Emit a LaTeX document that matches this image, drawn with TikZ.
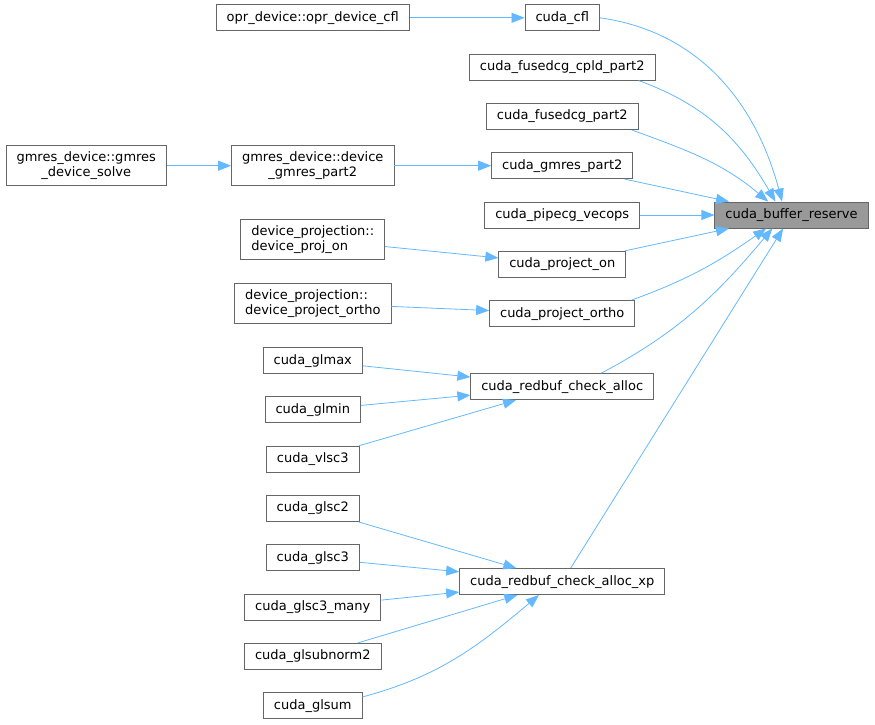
\documentclass[tikz,border=0pt]{standalone}
\usepackage{fontspec}
\setmainfont{DejaVu Sans}
\usetikzlibrary{arrows.meta, positioning}

\definecolor{edgeblue}{HTML}{63B8FF}
\definecolor{boxgray}{HTML}{666666}
\definecolor{rootgray}{HTML}{999999}

\tikzset{
    fn/.style={rectangle, draw=boxgray, line width=0.9pt, fill=white,
        minimum height=26pt, inner xsep=10.5pt, inner ysep=2pt,
        font=\fontsize{13}{15}\selectfont},
    fn root/.style={fn, fill=rootgray},
    fn two/.style={fn, align=center, minimum height=40pt},
    fn left/.style={fn, align=left, minimum height=40pt},
    call/.style={color=edgeblue, line width=0.8pt,
        -{Triangle[length=13pt, width=10pt]}},
}

\begin{document}
\begin{tikzpicture}[x=1pt, y=1pt, node distance=49.3pt and 249.5pt, on grid]
        \useasboundingbox (0,0) rectangle (875,-724);

        % Draw the functions
        \node[fn root]                     (cbr)     at (791.5,-215) {cuda\_buffer\_reserve};
        \node[fn, left=229.25pt of cbr]    (pipecg)  {cuda\_pipecg\_vecops};
        \node[fn, above=of pipecg]         (gmres)   {cuda\_gmres\_part2};
        \node[fn, above=of gmres]          (fused)   {cuda\_fusedcg\_part2};
        \node[fn, above=of fused]          (cpld)    {cuda\_fusedcg\_cpld\_part2};
        \node[fn, above=of cpld]           (cfl)     {cuda\_cfl};
        \node[fn, below=of pipecg]         (projon)  {cuda\_project\_on};
        \node[fn, below=of projon]         (projorth) {cuda\_project\_ortho};
        \node[fn, below=73pt of projorth]  (redbuf)  {cuda\_redbuf\_check\_alloc};
        \node[fn, below=195pt of redbuf]   (redbufxp) {cuda\_redbuf\_check\_alloc\_xp};

        \node[fn, left=of cfl]             (oprcfl)  {opr\_device::opr\_device\_cfl};
        \node[fn two, left=of gmres]       (devgmres) {gmres\_device::device\\\_gmres\_part2};
        \node[fn two, left=226.5pt of devgmres] (gmsolve) {gmres\_device::gmres\\\_device\_solve};
        \node[fn left, left=of projon, yshift=25pt]     (devprojon)  {device\_projection::\\device\_proj\_on};
        \node[fn left, left=of projorth, yshift=10.5pt] (devprojorth) {device\_projection::\\device\_project\_ortho};

        \node[fn, left=of redbuf, yshift=26pt] (glmax) {cuda\_glmax};
        \node[fn, below=of glmax]          (glmin)   {cuda\_glmin};
        \node[fn, below=of glmin]          (vlsc3)   {cuda\_vlsc3};
        \node[fn, below=of vlsc3]          (glsc2)   {cuda\_glsc2};
        \node[fn, below=of glsc2]          (glsc3)   {cuda\_glsc3};
        \node[fn, below=of glsc3]          (glsc3m)  {cuda\_glsc3\_many};
        \node[fn, below=of glsc3m]         (glsubn)  {cuda\_glsubnorm2};
        \node[fn, below=of glsubn]         (glsum)   {cuda\_glsum};

        % Connect callers to callees
        \path[call]
            (cfl.east) edge[out=-8, in=105] (cbr.125)
            (cpld.-10) edge[out=-20, in=120] (cbr.140)
            (fused.-11) edge[out=-20, in=140] (cbr.150)
            (gmres) edge (cbr)
            (pipecg) edge (cbr)
            (projon) edge (cbr)
            (projorth.11.6) edge[out=20, in=215] (cbr.208)
            (redbuf.19.7) edge[out=28, in=230] (cbr.215)
            (redbufxp) edge (cbr)

            (oprcfl) edge (cfl)
            (gmsolve) edge (devgmres)
            (devgmres) edge (gmres)
            (devprojon) edge (projon)
            (devprojorth) edge (projorth)

            (glmax) edge (redbuf)
            (glmin) edge (redbuf)
            (vlsc3) edge (redbuf)

            (glsc2) edge (redbufxp)
            (glsc3) edge (redbufxp)
            (glsc3m) edge (redbufxp)
            (glsubn) edge (redbufxp)
            (glsum.10) edge[out=15, in=220] (redbufxp.210);
\end{tikzpicture}
\end{document}
